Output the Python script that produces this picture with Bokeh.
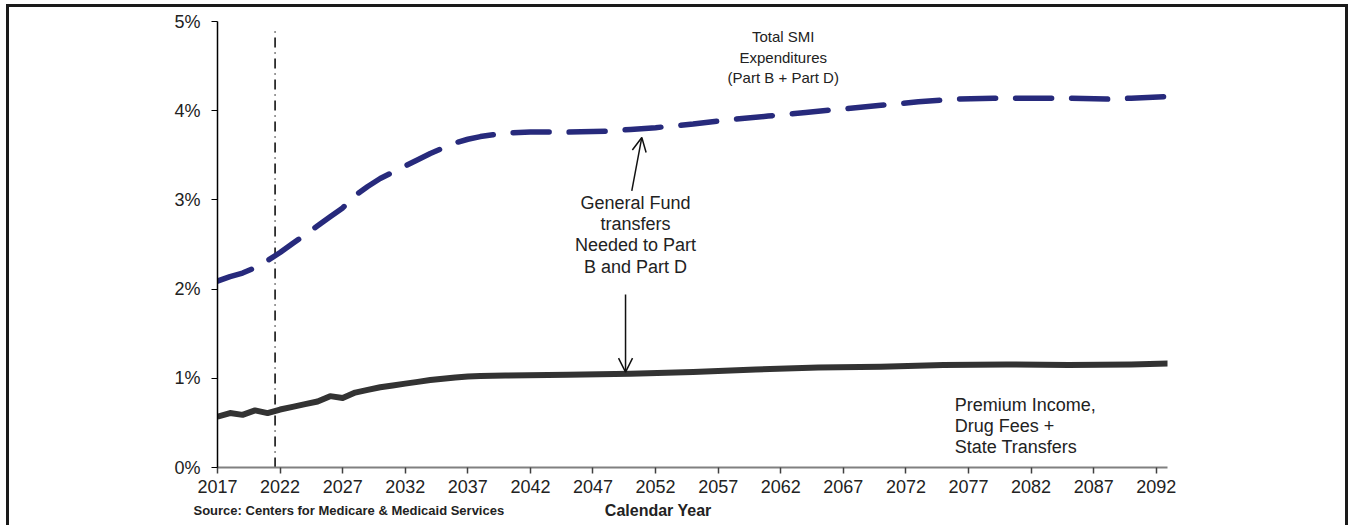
from bokeh.plotting import figure
from bokeh.layouts import column
from bokeh.models import Range1d, Arrow, OpenHead, FixedTicker
from bokeh.core.properties import value
from bokeh.embed import file_html
from bokeh.resources import INLINE

# ---- data (percent of GDP) ----
total_years = [2017, 2018, 2019, 2020, 2021, 2022, 2023, 2024, 2025, 2026, 2027, 2028,
               2029, 2030, 2031, 2032, 2033, 2034, 2035, 2036, 2037, 2038, 2039, 2040,
               2042, 2045, 2048, 2050, 2052, 2055, 2058, 2061, 2064, 2067, 2070, 2073,
               2076, 2079, 2082, 2085, 2088, 2090, 2093]
total_vals = [2.09, 2.14, 2.18, 2.24, 2.32, 2.41, 2.51, 2.61, 2.71, 2.81, 2.91, 3.05,
              3.15, 3.24, 3.31, 3.38, 3.45, 3.52, 3.58, 3.64, 3.68, 3.71, 3.73, 3.75,
              3.76, 3.76, 3.77, 3.79, 3.81, 3.85, 3.90, 3.94, 3.98, 4.02, 4.06, 4.10,
              4.13, 4.14, 4.14, 4.14, 4.13, 4.14, 4.16]

premium_years = [2017, 2018, 2019, 2020, 2021, 2022, 2023, 2024, 2025, 2026, 2027, 2028,
                 2029, 2030, 2031, 2032, 2033, 2034, 2035, 2036, 2037, 2038, 2040, 2045,
                 2050, 2055, 2060, 2065, 2070, 2075, 2080, 2085, 2090, 2093]
premium_vals = [0.57, 0.61, 0.59, 0.64, 0.61, 0.65, 0.68, 0.71, 0.74, 0.80, 0.78, 0.84,
                0.87, 0.90, 0.92, 0.94, 0.96, 0.98, 0.995, 1.01, 1.02, 1.025, 1.03, 1.04,
                1.05, 1.07, 1.10, 1.12, 1.13, 1.15, 1.155, 1.15, 1.155, 1.165]

x_ticks = list(range(2017, 2093, 5))
y_ticks = [0, 1, 2, 3, 4, 5]
y_tick_labels = {0: "0%", 1: "1%", 2: "2%", 3: "3%", 4: "4%", 5: "5%"}

divider_year = 2021.6
divider_top = 4.93

up_arrow = dict(x_start=2050.1, y_start=3.10, x_end=2050.9, y_end=3.70)
down_arrow = dict(x_start=2049.6, y_start=1.94, x_end=2049.6, y_end=1.07)

label_total = "Total SMI\nExpenditures\n(Part B + Part D)"
label_gf = "General Fund\ntransfers\nNeeded to Part\nB and Part D"
label_prem = "Premium Income,\nDrug Fees +\nState Transfers"
source_text = "Source: Centers for Medicare & Medicaid Services"
x_title = "Calendar Year"

FONT = "Liberation Sans"
TXT = "#222222"
BORDER = "3px solid #1a1a1a"

W, H = 1342, 494
p = figure(width=W, height=H, output_backend="svg", toolbar_location=None,
           x_range=Range1d(2017, 2092.9), y_range=Range1d(0, 5),
           min_border_left=208, min_border_right=184, min_border_top=14,
           min_border_bottom=34,
           styles={"margin-left": "6px", "margin-top": "4px",
                   "border-left": BORDER, "border-top": BORDER,
                   "border-right": BORDER})
p.grid.visible = False
p.outline_line_color = None
p.background_fill_color = "white"
p.border_fill_color = "white"

# axes
xa = p.xaxis[0]
xa.ticker = FixedTicker(ticks=x_ticks)
xa.axis_line_color = "#808080"
xa.axis_line_width = 2
xa.major_tick_line_color = "#404040"
xa.major_tick_line_width = 1.5
xa.major_tick_out = 6
xa.major_tick_in = 0
xa.minor_tick_line_color = None
xa.major_label_text_font = FONT
xa.major_label_text_font_size = "18px"
xa.major_label_text_color = TXT
xa.major_label_standoff = 6

ya = p.yaxis[0]
ya.ticker = FixedTicker(ticks=y_ticks)
ya.major_label_overrides = y_tick_labels
ya.axis_line_color = "black"
ya.axis_line_width = 1.5
ya.major_tick_line_color = "black"
ya.major_tick_out = 6
ya.major_tick_in = 0
ya.minor_tick_line_color = None
ya.major_label_text_font = FONT
ya.major_label_text_font_size = "18px"
ya.major_label_text_color = TXT
ya.major_label_standoff = 11

# divider line
p.segment(x0=[divider_year], y0=[0], x1=[divider_year], y1=[divider_top],
          line_color="black", line_width=1.5, line_dash="10 5 1 5")

# series
p.line(total_years, total_vals, line_color="#272A7C", line_width=5.5,
       line_dash="36 20", line_cap="round", line_join="round")
p.line(premium_years, premium_vals, line_color="#333333", line_width=6,
       line_join="round")

# arrows
for a in (up_arrow, down_arrow):
    p.add_layout(Arrow(end=OpenHead(size=14, line_width=1.5, line_color="#111111"),
                       line_width=1.5, line_color="#111111", **a))

# annotation texts
p.text(x=[2062.2], y=[4.60], text=[label_total], text_font=value(FONT),
       text_font_size="15px", text_color=TXT, text_align="center",
       text_baseline="middle", text_line_height=1.19)
p.text(x=[2050.4], y=[2.61], text=[label_gf], text_font=value(FONT),
       text_font_size="18px", text_color=TXT, text_align="center",
       text_baseline="middle", text_line_height=1.07)
p.text(x=[2075.9], y=[0.465], text=[label_prem], text_font=value(FONT),
       text_font_size="18px", text_color=TXT, text_align="left",
       text_baseline="middle", text_line_height=1.04)

# footer strip (source note + x axis title), in page pixel coordinates
H2 = 27
p2 = figure(width=W, height=H2, output_backend="svg", toolbar_location=None,
            x_range=Range1d(9, 9 + W), y_range=Range1d(498 + H2, 498),
            min_border=0, min_border_left=0, min_border_right=0,
            min_border_top=0, min_border_bottom=0,
            styles={"margin-left": "6px", "border-left": BORDER,
                    "border-right": BORDER})
p2.axis.visible = False
p2.grid.visible = False
p2.outline_line_color = None
for fig in (p, p2):
    try:
        fig.frame_align = False
    except Exception:
        pass
p2.text(x=[193], y=[510], text=[source_text], text_font=value(FONT),
        text_font_size="13px", text_font_style="bold", text_color=TXT,
        text_align="left", text_baseline="middle")
p2.text(x=[657.7], y=[510], text=[x_title], text_font=value(FONT),
        text_font_size="16px", text_font_style="bold", text_color=TXT,
        text_align="center", text_baseline="middle")

layout = column(p, p2, spacing=0)
open("out.html", "w").write(file_html(layout, INLINE))
